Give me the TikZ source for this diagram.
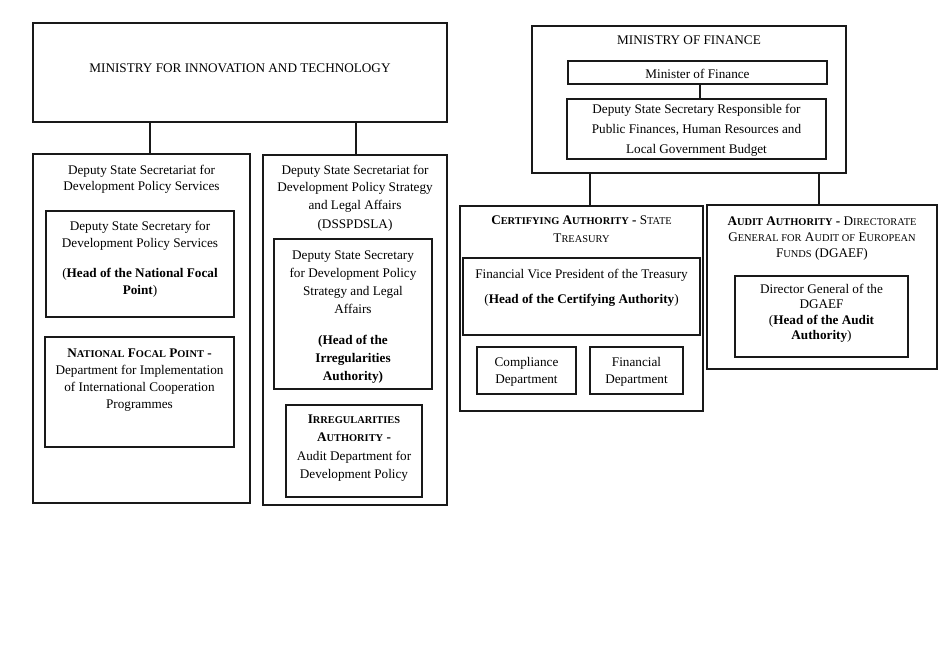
\documentclass[tikz,border=0pt]{standalone}
\usepackage{fontspec}
\setmainfont{Liberation Serif}
\usetikzlibrary{fit}
\newcommand\sck[2]{#1{\fontsize{10.4}{10}\selectfont #2}}
\begin{document}
\begin{tikzpicture}[x=1pt,y=-1pt,
  box/.style={draw=black!90, line width=1.3pt, inner sep=0pt},
  txt/.style={align=center, inner sep=0pt, anchor=north, yshift=-2.5pt, font=\fontsize{13.2}{17}\selectfont},
  ctxt/.style={txt, anchor=center, yshift=1pt},
  conn/.style={draw=black!90, line width=1.3pt}]
\useasboundingbox (0,0) rectangle (951,665);
% boxes
\node[box, fit={(33,23) (447,122)}] (mit) {};
\node[box, fit={(532,26) (846,173)}] (mof) {};
\node[box, fit={(568,61) (827,84)}] (minf) {};
\node[box, fit={(567,99) (826,159)}] (dss) {};
\node[box, fit={(33,154) (250,503)}] (lo) {};
\node[box, fit={(46,211) (234,317)}] (l1) {};
\node[box, fit={(45,337) (234,447)}] (l2) {};
\node[box, fit={(263,155) (447,505)}] (mo) {};
\node[box, fit={(274,239) (432,389)}] (m1) {};
\node[box, fit={(286,405) (422,497)}] (m2) {};
\node[box, fit={(460,206) (703,411)}] (co) {};
\node[box, fit={(463,258) (700,335)}] (c1) {};
\node[box, fit={(477,347) (576,394)}] (cc) {};
\node[box, fit={(590,347) (683,394)}] (cf) {};
\node[box, fit={(707,205) (937,369)}] (ao) {};
\node[box, fit={(735,276) (908,357)}] (a1) {};
% texts
\node[txt] (tmit) at (240,61.5) {MINISTRY FOR INNOVATION AND TECHNOLOGY};
\node[txt] (tmof) at (689,33.5) {MINISTRY OF FINANCE};
\node[ctxt] (tminf) at (minf.center) {Minister of Finance};
\node[ctxt, font=\fontsize{13.2}{20}\selectfont] (tdss) at (dss.center) {Deputy State Secretary Responsible for\\Public Finances, Human Resources and\\Local Government Budget};
\node[txt] (tlo) at (141.5,162) {Deputy State Secretariat for\\Development Policy Services};
\node[txt] (tl1) at (140,218) {Deputy State Secretary for\\Development Policy Services\\[13pt]
  (\textbf{Head of the National Focal}\\\textbf{Point})};
\node[txt] (tl2) at (139.5,346) {\textbf{\sck{N}{ATIONAL} \sck{F}{OCAL} \sck{P}{OINT} -}\\Department for Implementation\\of International Cooperation\\Programmes};
\node[txt, font=\fontsize{13.2}{18}\selectfont] (tmo) at (355,162) {Deputy State Secretariat for\\Development Policy Strategy\\and Legal Affairs\\(DSSPDSLA)};
\node[txt, font=\fontsize{13.2}{18}\selectfont] (tm1) at (353,248) {Deputy State Secretary\\for Development Policy\\Strategy and Legal\\Affairs\\[13pt]
  \textbf{(Head of the}\\\textbf{Irregularities}\\\textbf{Authority)}};
\node[txt, font=\fontsize{13.2}{18.5}\selectfont] (tm2) at (354,412) {\textbf{\sck{I}{RREGULARITIES}}\\\textbf{\sck{A}{UTHORITY} -}\\Audit Department for\\Development Policy};
\node[txt, font=\fontsize{13.2}{18}\selectfont] (tco) at (581.5,213) {\textbf{\sck{C}{ERTIFYING} \sck{A}{UTHORITY} -} \sck{S}{TATE}\\\sck{T}{REASURY}};
\node[txt] (tc1) at (581.5,266) {Financial Vice President of the Treasury\\[8pt]
  (\textbf{Head of the Certifying Authority})};
\node[ctxt] (tcc) at (cc.center) {Compliance\\Department};
\node[ctxt] (tcf) at (cf.center) {Financial\\Department};
\node[txt, font=\fontsize{13.2}{16}\selectfont] (tao) at (822,214) {\textbf{\sck{A}{UDIT} \sck{A}{UTHORITY} -} \sck{D}{IRECTORATE}\\\sck{G}{ENERAL FOR} \sck{A}{UDIT OF} \sck{E}{UROPEAN}\\\sck{F}{UNDS} (DGAEF)};
\node[txt, font=\fontsize{13.2}{15.5}\selectfont] (ta1) at (821.5,281) {Director General of the\\DGAEF\\(\textbf{Head of the Audit}\\\textbf{Authority})};
% connectors
\draw[conn] (mit.south -| 150,0) -- (lo.north -| 150,0);
\draw[conn] (mit.south -| 356,0) -- (mo.north -| 356,0);
\draw[conn] (minf.south -| 700,0) -- (dss.north -| 700,0);
\draw[conn] (mof.south -| 590,0) -- (co.north -| 590,0);
\draw[conn] (mof.south -| 819,0) -- (ao.north -| 819,0);
\end{tikzpicture}
\end{document}
